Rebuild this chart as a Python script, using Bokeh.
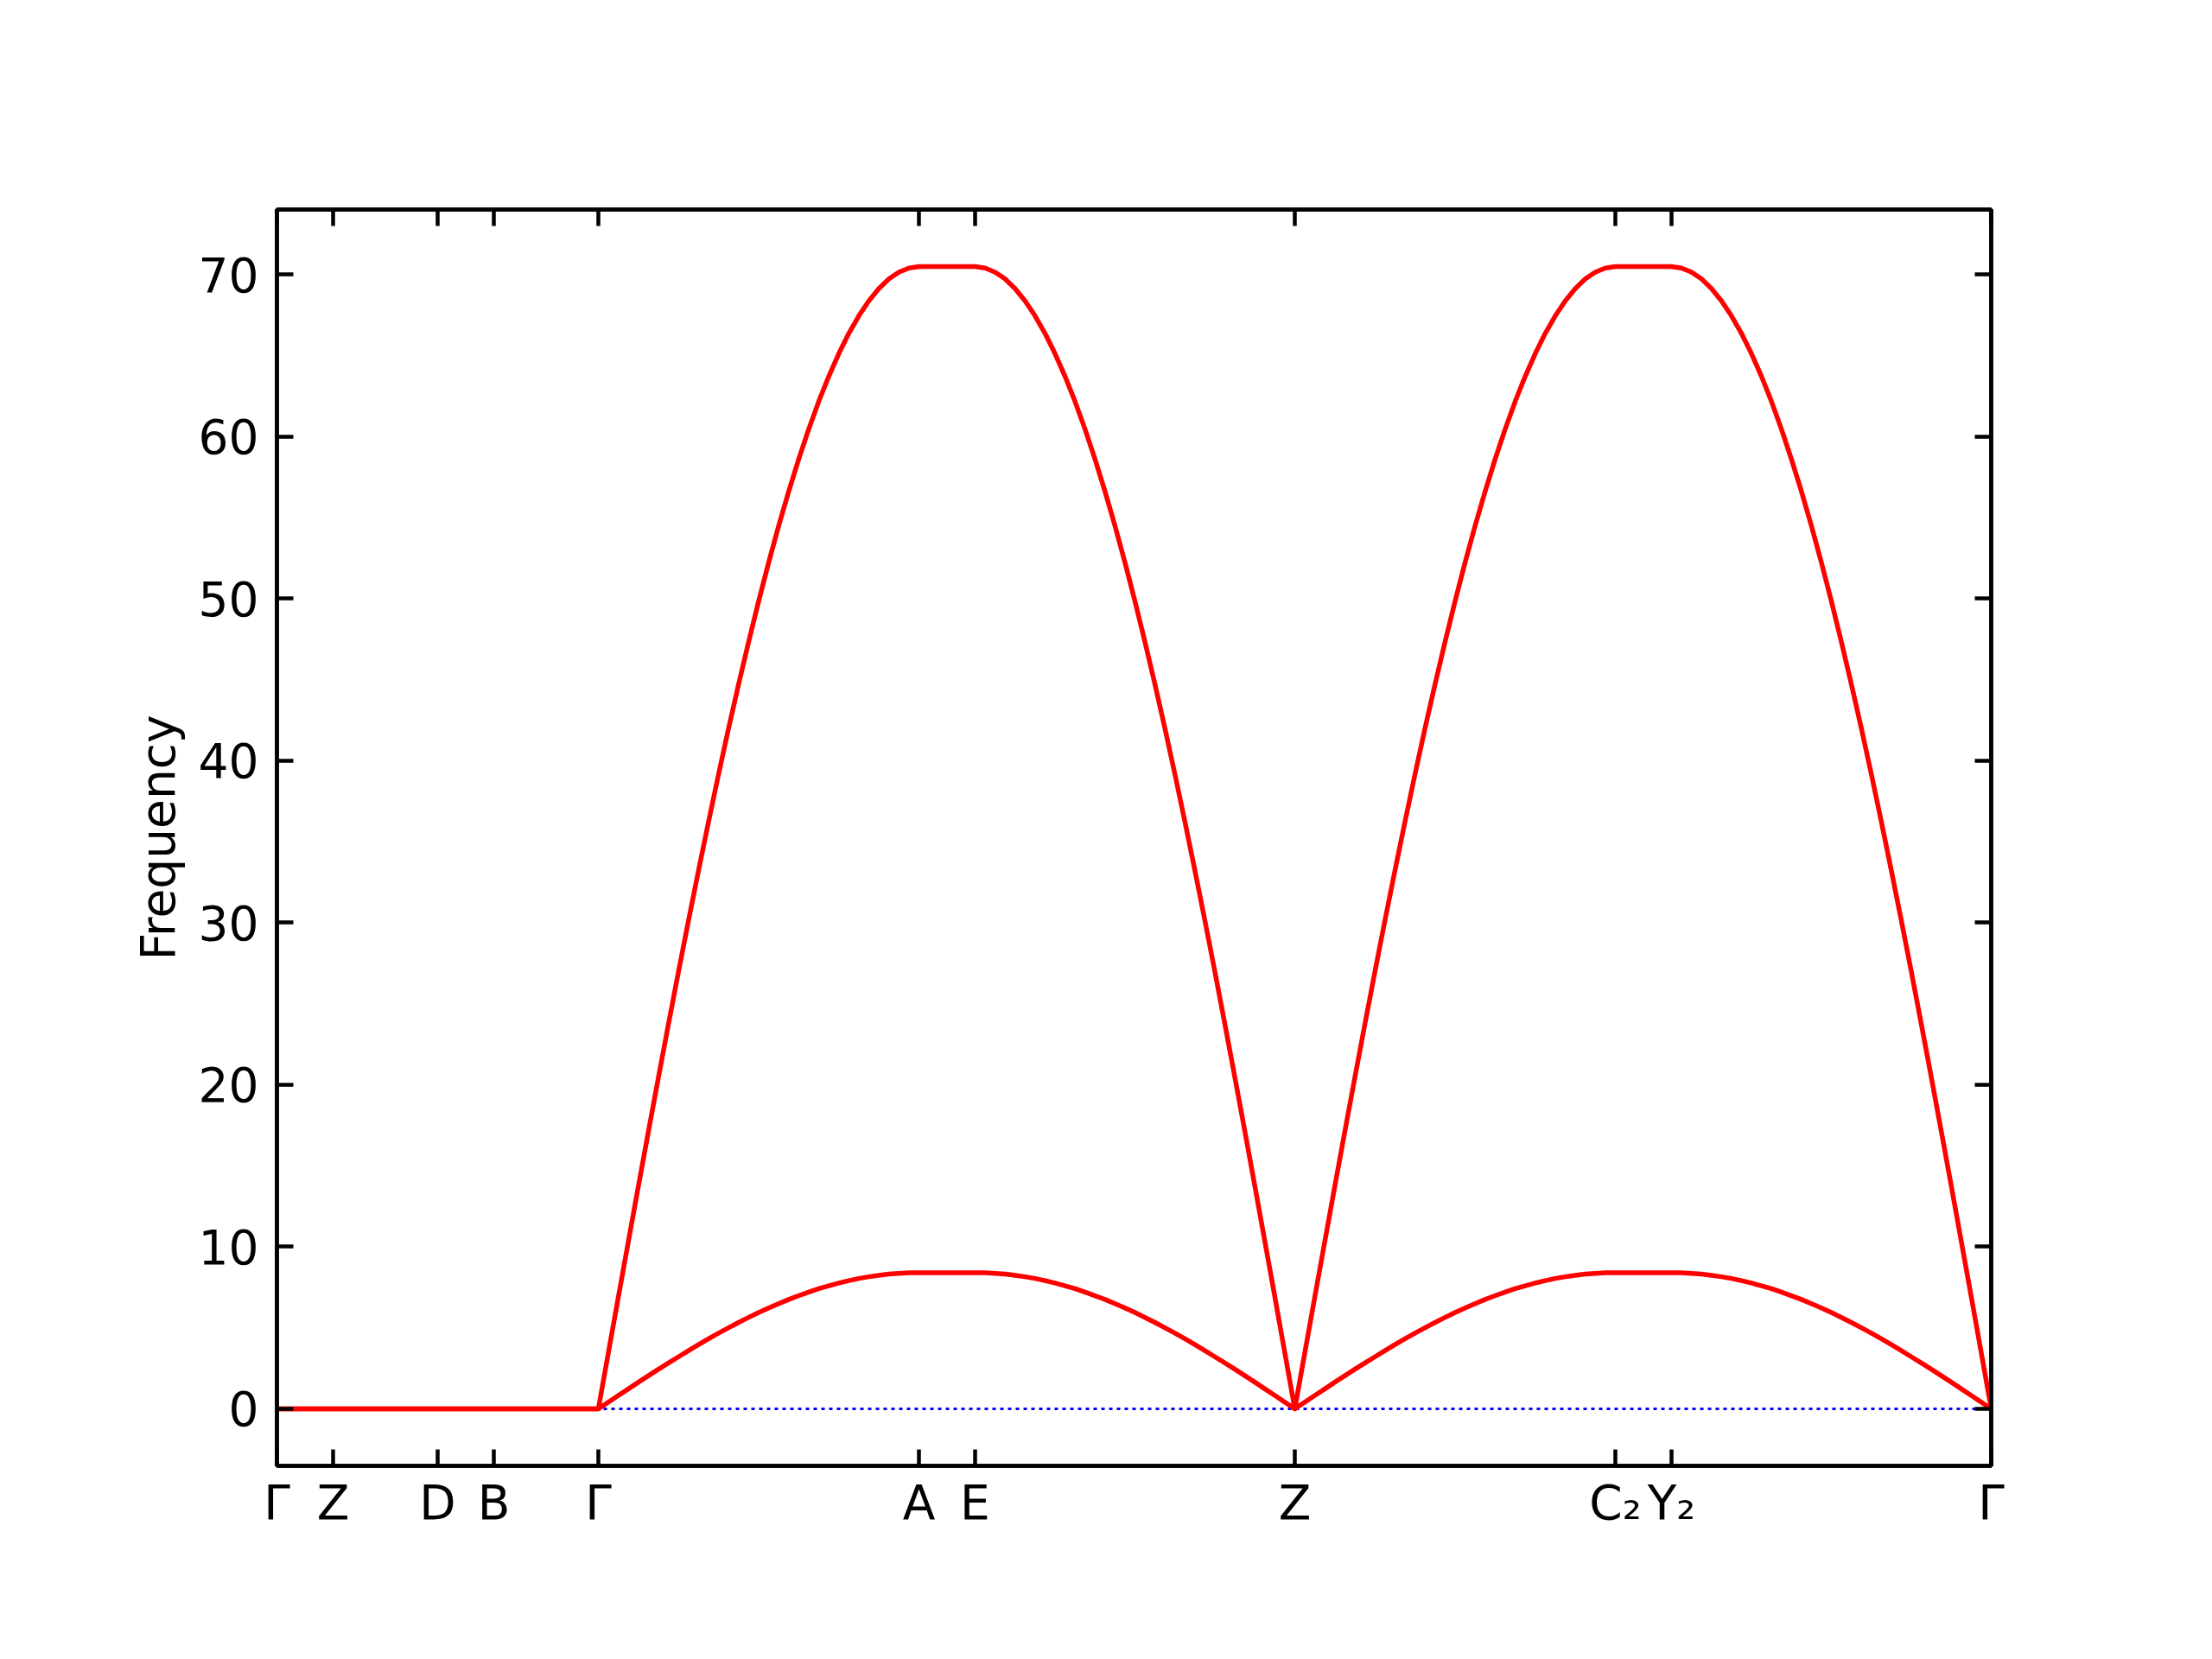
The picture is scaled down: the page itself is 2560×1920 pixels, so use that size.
from bokeh.plotting import figure
from bokeh.models import Range1d, FixedTicker, LinearAxis
from bokeh.embed import file_html
from bokeh.resources import INLINE

# ---- data ----
# high-symmetry points along the k-path (path coordinate)
kpoint_labels = ["Γ", "Z", "D", "B", "Γ", "A", "E", "Z", "C₂", "Y₂", "Γ"]
kpoint_pos = [0.0, 0.065, 0.186, 0.251, 0.372, 0.743, 0.808, 1.178, 1.549, 1.614, 1.984]
# shape of each segment between consecutive points
segment_kind = ["zero", "zero", "zero", "zero", "rise", "flat", "fall", "rise", "flat", "fall"]

# upper band read along a rising segment (from Γ/Z up to the plateau), evenly spaced q-points
upper_rise = [0.00, 3.46, 6.91, 10.34, 13.75, 17.13, 20.46, 23.75, 26.98, 30.14, 33.23,
              36.24, 39.17, 42.00, 44.72, 47.34, 49.85, 52.24, 54.50, 56.63, 58.62,
              60.47, 62.18, 63.73, 65.13, 66.38, 67.46, 68.39, 69.15, 69.74, 70.16,
              70.41, 70.50]
# lower band read along the same segment
lower_rise = [0.00, 0.41, 0.82, 1.23, 1.64, 2.04, 2.44, 2.83, 3.21, 3.59, 3.96,
              4.32, 4.67, 5.00, 5.33, 5.64, 5.94, 6.22, 6.49, 6.75, 6.98,
              7.20, 7.41, 7.59, 7.76, 7.91, 8.04, 8.15, 8.24, 8.31, 8.36,
              8.39, 8.40]

y_ticks = [0, 10, 20, 30, 40, 50, 60, 70]
y_min, y_max = -3.525, 74.025


def build_band(profile):
    xs, ys = [], []
    for i, kind in enumerate(segment_kind):
        x0, x1 = kpoint_pos[i], kpoint_pos[i + 1]
        if kind == "zero":
            vals = [0.0, 0.0]
        elif kind == "flat":
            vals = [profile[-1], profile[-1]]
        elif kind == "rise":
            vals = list(profile)
        else:
            vals = list(reversed(profile))
        n = len(vals)
        for j, v in enumerate(vals):
            xs.append(x0 + (x1 - x0) * j / (n - 1))
            ys.append(v)
    return xs, ys


FONT = "DejaVu Sans"
FS = "55px"

p = figure(width=2544, height=1904, output_backend="svg", toolbar_location=None,
           x_range=Range1d(kpoint_pos[0], kpoint_pos[-1]), y_range=Range1d(y_min, y_max),
           min_border_left=320, min_border_right=240, min_border_top=242, min_border_bottom=208)
p.background_fill_color = "white"
p.border_fill_color = "white"
p.outline_line_color = "black"
p.outline_line_width = 4.5
p.xgrid.visible = False
p.ygrid.visible = False

# zero reference line (blue dotted), below the bands
p.line([kpoint_pos[0], kpoint_pos[-1]], [0, 0], line_color="blue", line_width=3, line_dash="4 5")

for prof in (lower_rise, upper_rise):
    bx, by = build_band(prof)
    p.line(bx, by, line_color="red", line_width=5.5, line_join="round")

xt = FixedTicker(ticks=kpoint_pos)
yt = FixedTicker(ticks=y_ticks)
overrides = {pos: lab for pos, lab in zip(kpoint_pos, kpoint_labels)}


def style(ax, labels=True):
    ax.axis_line_color = "black"
    ax.axis_line_width = 4.5
    ax.major_tick_line_color = "black"
    ax.major_tick_line_width = 4.5
    ax.major_tick_in = 19
    ax.major_tick_out = 0
    ax.minor_tick_line_color = None
    ax.major_label_text_font = FONT
    ax.major_label_text_font_size = FS
    ax.major_label_text_color = "black" if labels else None
    ax.axis_label_text_font = FONT
    ax.axis_label_text_font_size = FS
    ax.axis_label_text_font_style = "normal"
    ax.axis_label_text_color = "black"


xa = p.xaxis[0]
xa.ticker = xt
xa.major_label_overrides = overrides
xa.major_label_standoff = 10
style(xa)

ya = p.yaxis[0]
ya.ticker = yt
ya.axis_label = "Frequency"
ya.major_label_standoff = 21
ya.axis_label_standoff = 12
style(ya)

top = LinearAxis(ticker=xt)
style(top, labels=False)
top.major_label_text_font_size = "0px"
p.add_layout(top, "above")

right = LinearAxis(ticker=yt)
style(right, labels=False)
right.major_label_text_font_size = "0px"
p.add_layout(right, "right")

open("out.html", "w").write(file_html(p, INLINE))
